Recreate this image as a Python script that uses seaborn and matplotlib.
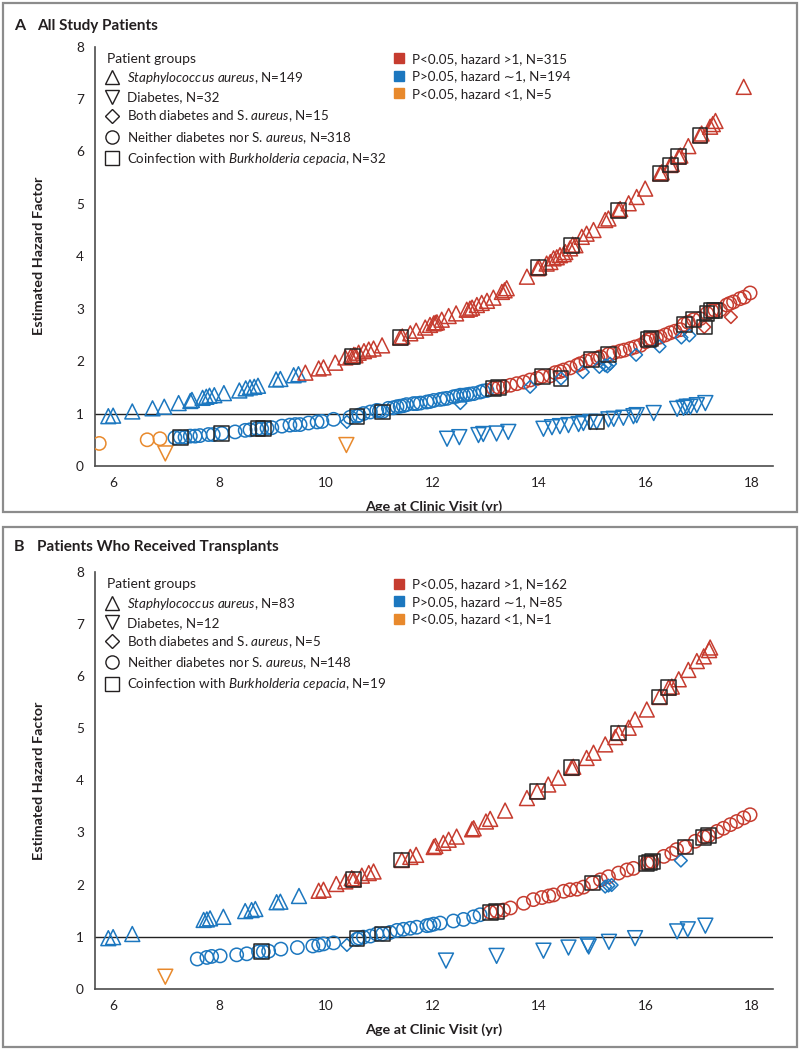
import matplotlib
matplotlib.use("Agg")
import numpy as np
import pandas as pd
import matplotlib.pyplot as plt
import seaborn as sns
from matplotlib.lines import Line2D
from matplotlib.patches import Rectangle

RED = "#C63C2F"
BLUE = "#1C77BF"
ORANGE = "#E8892C"
SQUARE = "#262626"
PALETTE = {"hi": RED, "ns": BLUE, "lo": ORANGE}

# ---------------------------------------------------------------------------
# Panel A : all study patients
# ---------------------------------------------------------------------------
A_AUREUS_X = [5.91, 6.00, 6.36, 6.74, 6.96, 7.23, 7.45, 7.48, 7.68, 7.75, 7.81, 7.90, 8.08, 8.37,
              8.49, 8.57, 8.65, 8.72, 9.06, 9.14, 9.39, 9.48,
              9.61, 9.86, 9.95, 10.17, 10.36, 10.46, 10.52, 10.55, 10.61, 10.71, 10.80, 10.89, 11.05,
              11.39, 11.43, 11.58, 11.69, 11.86, 11.95, 12.02, 12.05, 12.08, 12.17, 12.30, 12.44,
              12.64, 12.70, 12.74, 12.83, 12.92, 13.02, 13.14, 13.30, 13.35, 13.39, 13.77, 13.97,
              14.00, 14.14, 14.21, 14.27, 14.33, 14.39, 14.46, 14.49, 14.58, 14.63, 14.68, 14.80,
              14.89, 15.02, 15.24, 15.30, 15.49, 15.52, 15.68, 15.83, 15.99, 16.27, 16.30, 16.46,
              16.49, 16.62, 16.65, 16.80, 17.02, 17.05, 17.21, 17.26, 17.31, 17.84]
A_AUREUS_Y = [0.95, 0.96, 1.04, 1.10, 1.13, 1.20, 1.24, 1.26, 1.30, 1.32, 1.34, 1.35, 1.39, 1.44,
              1.48, 1.50, 1.51, 1.53, 1.65, 1.66, 1.73, 1.75,
              1.78, 1.86, 1.88, 1.97, 2.07, 2.09, 2.12, 2.11, 2.16, 2.19, 2.22, 2.24, 2.30,
              2.45, 2.47, 2.53, 2.58, 2.64, 2.69, 2.72, 2.73, 2.74, 2.79, 2.86, 2.91,
              2.98, 3.00, 3.02, 3.07, 3.11, 3.15, 3.21, 3.32, 3.35, 3.39, 3.61, 3.77,
              3.79, 3.86, 3.89, 3.96, 3.98, 4.02, 4.04, 4.08, 4.15, 4.22, 4.21, 4.37,
              4.43, 4.50, 4.69, 4.72, 4.88, 4.90, 5.01, 5.13, 5.29, 5.58, 5.60, 5.74,
              5.76, 5.90, 5.92, 6.10, 6.31, 6.34, 6.47, 6.52, 6.58, 7.23]
A_AUREUS_SIG = ["ns"] * 22 + ["hi"] * 71

A_DIAB_X = [6.98, 10.38, 12.27, 12.50, 12.86, 12.95, 13.20, 13.42, 14.08, 14.24, 14.39, 14.55,
            14.74, 14.83, 14.96, 15.08, 15.30, 15.40, 15.58, 15.77, 15.83, 16.15, 16.59, 16.71,
            16.77, 16.84, 16.96, 17.12]
A_DIAB_Y = [0.24, 0.40, 0.52, 0.55, 0.59, 0.61, 0.62, 0.65, 0.71, 0.74, 0.76, 0.78,
            0.80, 0.82, 0.84, 0.84, 0.89, 0.90, 0.92, 0.95, 0.97, 1.01, 1.09, 1.11,
            1.13, 1.13, 1.16, 1.20]
A_DIAB_SIG = ["lo"] * 2 + ["ns"] * 26

A_BOTH_X = [10.39, 12.52, 13.83, 14.41, 14.82, 15.13, 15.24, 15.28, 15.33, 15.82, 16.26, 16.67,
            16.82, 17.10, 17.60]
A_BOTH_Y = [0.84, 1.20, 1.51, 1.67, 1.79, 1.89, 1.92, 1.90, 1.95, 2.12, 2.28, 2.45,
            2.49, 2.65, 2.84]
A_BOTH_SIG = ["ns"] * 13 + ["hi"] * 2

A_NEITHER_X = [5.74, 6.64, 6.88,
               7.16, 7.26, 7.35, 7.45, 7.54, 7.63, 7.79, 7.88, 8.04, 8.29, 8.48, 8.57, 8.70, 8.79,
               8.89, 8.98, 9.17, 9.32, 9.42, 9.51, 9.67, 9.83, 9.92, 10.14, 10.45, 10.58, 10.62,
               10.70, 10.83, 10.95, 11.00, 11.06, 11.17, 11.26, 11.33, 11.39, 11.45, 11.51, 11.64,
               11.70, 11.77, 11.89, 11.95, 12.02, 12.14, 12.20, 12.27, 12.39, 12.45, 12.52, 12.58,
               12.64, 12.70, 12.77, 12.89, 12.95, 13.02,
               13.14, 13.24, 13.33, 13.46, 13.58, 13.71, 13.83, 13.96, 14.06, 14.21, 14.30, 14.39,
               14.46, 14.58, 14.71, 14.77, 14.88, 14.99, 15.10, 15.15, 15.30, 15.40, 15.52, 15.60,
               15.71, 15.80, 15.90, 16.00, 16.05, 16.10, 16.20, 16.27, 16.37, 16.46, 16.55, 16.65,
               16.72, 16.80, 16.90, 17.02, 17.15, 17.24, 17.30, 17.40, 17.52, 17.58, 17.65, 17.77,
               17.85, 17.96]
A_NEITHER_Y = [0.43, 0.50, 0.52,
               0.54, 0.55, 0.55, 0.57, 0.57, 0.58, 0.60, 0.60, 0.62, 0.65, 0.68, 0.69, 0.71, 0.71,
               0.72, 0.73, 0.76, 0.78, 0.79, 0.79, 0.82, 0.84, 0.85, 0.89, 0.93, 0.95, 0.97,
               1.00, 1.03, 1.06, 1.05, 1.04, 1.10, 1.11, 1.13, 1.14, 1.15, 1.17, 1.19,
               1.19, 1.20, 1.22, 1.23, 1.25, 1.27, 1.28, 1.29, 1.32, 1.33, 1.35, 1.35,
               1.36, 1.37, 1.38, 1.41, 1.43, 1.44,
               1.48, 1.50, 1.51, 1.54, 1.57, 1.60, 1.64, 1.67, 1.71, 1.72, 1.78, 1.80,
               1.83, 1.87, 1.92, 1.95, 2.00, 2.03, 2.06, 2.08, 2.13, 2.16, 2.19, 2.21,
               2.24, 2.27, 2.30, 2.37, 2.41, 2.43, 2.44, 2.46, 2.50, 2.54, 2.57, 2.60,
               2.70, 2.74, 2.79, 2.81, 2.91, 2.96, 2.97, 2.98, 3.07, 3.10, 3.13, 3.19,
               3.22, 3.30]
A_NEITHER_SIG = ["lo"] * 3 + ["ns"] * 57 + ["hi"] * 50

A_COINF_X = [7.26, 8.04, 8.72, 8.82, 10.50, 10.58, 11.06, 11.39, 13.14, 13.24, 13.99, 14.06,
             14.41, 14.61, 14.99, 15.07, 15.30, 15.49, 16.05, 16.10, 16.27, 16.46, 16.62, 16.72,
             16.90, 17.02, 17.10, 17.15, 17.24, 17.30]
A_COINF_Y = [0.54, 0.62, 0.71, 0.71, 2.09, 0.95, 1.03, 2.45, 1.48, 1.50, 3.78, 1.71,
             1.67, 4.21, 2.03, 0.84, 2.13, 4.88, 2.41, 2.43, 5.58, 5.74, 5.90, 2.70,
             2.79, 6.31, 2.65, 2.91, 2.96, 2.97]

# ---------------------------------------------------------------------------
# Panel B : patients who received transplants
# ---------------------------------------------------------------------------
B_AUREUS_X = [5.91, 6.00, 6.36, 7.70, 7.76, 7.82, 8.07, 8.48, 8.60, 8.67, 9.07, 9.14, 9.49,
              9.86, 9.95, 10.19, 10.36, 10.48, 10.52, 10.67, 10.80, 10.89, 11.42, 11.58, 11.69,
              12.02, 12.05, 12.20, 12.30, 12.45, 12.74, 12.77, 13.00, 13.08, 13.36, 13.77, 13.96,
              14.17, 14.36, 14.61, 14.64, 14.89, 15.02, 15.24, 15.43, 15.49, 15.68, 15.80, 16.02,
              16.26, 16.43, 16.49, 16.62, 16.80, 16.96, 17.09, 17.19, 17.21]
B_AUREUS_Y = [0.97, 0.99, 1.05, 1.32, 1.33, 1.35, 1.38, 1.49, 1.51, 1.53, 1.66, 1.67, 1.78,
              1.88, 1.90, 2.01, 2.06, 2.12, 2.10, 2.17, 2.22, 2.25, 2.47, 2.53, 2.57,
              2.72, 2.74, 2.80, 2.86, 2.92, 3.06, 3.08, 3.21, 3.26, 3.42, 3.66, 3.79,
              3.92, 4.05, 4.24, 4.26, 4.43, 4.53, 4.69, 4.83, 4.91, 5.01, 5.17, 5.36,
              5.60, 5.78, 5.80, 5.94, 6.12, 6.29, 6.38, 6.50, 6.55]
B_AUREUS_SIG = ["ns"] * 13 + ["hi"] * 45

B_DIAB_X = [6.98, 12.25, 13.20, 14.08, 14.55, 14.91, 14.93, 15.31, 15.80, 16.59, 16.79, 17.12]
B_DIAB_Y = [0.23, 0.54, 0.63, 0.73, 0.79, 0.84, 0.81, 0.90, 0.97, 1.10, 1.14, 1.21]
B_DIAB_SIG = ["lo"] + ["ns"] * 11

B_BOTH_X = [10.39, 15.24, 15.30, 15.36, 16.66]
B_BOTH_Y = [0.84, 1.96, 1.98, 1.99, 2.46]
B_BOTH_SIG = ["ns"] * 5

B_NEITHER_X = [7.58, 7.76, 7.85, 8.01, 8.32, 8.51, 8.73, 8.82, 8.92, 9.15, 9.46, 9.75, 9.86, 9.95,
               10.14, 10.58, 10.62, 10.70, 10.83, 10.95, 11.06, 11.20, 11.33, 11.45, 11.58, 11.70,
               11.89, 11.95, 12.02, 12.14, 12.39, 12.58, 12.77, 12.89,
               13.08, 13.20, 13.33, 13.46, 13.71, 13.89, 14.05, 14.18, 14.27, 14.46, 14.58, 14.71,
               14.83, 15.00, 15.15, 15.30, 15.49, 15.65, 15.77, 16.02, 16.07, 16.12, 16.34, 16.49,
               16.58, 16.74, 16.93, 17.09, 17.18, 17.34, 17.46, 17.59, 17.71, 17.84, 17.96]
B_NEITHER_Y = [0.57, 0.60, 0.62, 0.63, 0.65, 0.67, 0.71, 0.71, 0.72, 0.76, 0.79, 0.82, 0.84, 0.86,
               0.88, 0.95, 0.97, 0.99, 1.01, 1.05, 1.05, 1.08, 1.12, 1.14, 1.16, 1.18,
               1.21, 1.22, 1.24, 1.26, 1.30, 1.33, 1.38, 1.42,
               1.47, 1.49, 1.51, 1.55, 1.64, 1.71, 1.75, 1.78, 1.80, 1.87, 1.90, 1.91,
               1.95, 2.03, 2.09, 2.15, 2.22, 2.28, 2.31, 2.41, 2.42, 2.44, 2.54, 2.60,
               2.67, 2.72, 2.83, 2.91, 2.94, 3.02, 3.08, 3.15, 3.21, 3.28, 3.34]
B_NEITHER_SIG = ["ns"] * 34 + ["hi"] * 35

B_COINF_X = [8.78, 10.52, 10.58, 11.06, 11.42, 13.08, 13.20, 13.96, 14.61, 15.00, 15.49, 16.02,
             16.07, 16.12, 16.26, 16.43, 16.74, 17.09, 17.18]
B_COINF_Y = [0.71, 2.10, 0.97, 1.05, 2.47, 1.47, 1.49, 3.79, 4.24, 2.03, 4.91, 2.41,
             2.42, 2.44, 5.60, 5.78, 2.72, 2.91, 2.94]

A_GROUP_N = [149, 32, 15, 318, 32]
A_SIG_N = [315, 194, 5]
B_GROUP_N = [83, 12, 5, 148, 19]
B_SIG_N = [162, 85, 1]

GROUPS = ["aureus", "diab", "both", "neither", "coinf"]
MARKERS = {"aureus": "^", "diab": "v", "both": "D", "neither": "o", "coinf": "s"}
SIZES = {"aureus": 115, "diab": 115, "both": 42, "neither": 92, "coinf": 115}


def build_frame(xs, ys, sigs):
    frames = []
    for g, x, y, s in zip(GROUPS, xs, ys, sigs):
        frames.append(pd.DataFrame({"age": x, "hazard": y, "group": g, "sig": s}))
    return pd.concat(frames, ignore_index=True)


df_a = build_frame(
    [A_AUREUS_X, A_DIAB_X, A_BOTH_X, A_NEITHER_X, A_COINF_X],
    [A_AUREUS_Y, A_DIAB_Y, A_BOTH_Y, A_NEITHER_Y, A_COINF_Y],
    [A_AUREUS_SIG, A_DIAB_SIG, A_BOTH_SIG, A_NEITHER_SIG, ["box"] * len(A_COINF_X)],
)
df_b = build_frame(
    [B_AUREUS_X, B_DIAB_X, B_BOTH_X, B_NEITHER_X, B_COINF_X],
    [B_AUREUS_Y, B_DIAB_Y, B_BOTH_Y, B_NEITHER_Y, B_COINF_Y],
    [B_AUREUS_SIG, B_DIAB_SIG, B_BOTH_SIG, B_NEITHER_SIG, ["box"] * len(B_COINF_X)],
)

sns.set_style("white")
plt.rcParams["font.family"] = ["Lato", "DejaVu Sans"]
plt.rcParams["mathtext.fontset"] = "custom"
plt.rcParams["mathtext.rm"] = "Lato"
plt.rcParams["mathtext.it"] = "Lato:italic"
plt.rcParams["mathtext.bf"] = "Lato:bold"

TEXT = "#231f20"
AXIS = "#4d4d4d"
FS = 9.6
LABEL_FS = 10.4


def draw_panel(ax, df, group_n, sig_n):
    for g in ["neither", "aureus", "diab", "both", "coinf"]:
        sub = df[df["group"] == g]
        if g == "coinf":
            sns.scatterplot(data=sub, x="age", y="hazard", color=SQUARE, marker=MARKERS[g],
                            s=SIZES[g], legend=False, ax=ax, zorder=4)
        else:
            sns.scatterplot(data=sub, x="age", y="hazard", hue="sig", palette=PALETTE,
                            marker=MARKERS[g], s=SIZES[g], legend=False, ax=ax, zorder=3)
    # hollow markers: move the fill colour onto the edge
    for coll in ax.collections:
        fc = coll.get_facecolors()
        coll.set_edgecolors(fc)
        coll.set_facecolors("none")
        coll.set_linewidths(1.1)

    ax.axhline(1, color="#222222", lw=1.0, zorder=1)
    ax.set_xlim(5.66, 18.39)
    ax.set_ylim(0, 8)
    ax.set_xticks(range(6, 19, 2))
    ax.set_yticks(range(0, 9))
    sns.despine(ax=ax)
    for side in ["left", "bottom"]:
        ax.spines[side].set_color(AXIS)
        ax.spines[side].set_linewidth(1.2)
    ax.tick_params(direction="out", length=5, width=1.1, color=AXIS, labelcolor=TEXT,
                   labelsize=9.8, pad=3)
    ax.set_xlabel("Age at Clinic Visit (yr)", fontsize=LABEL_FS, fontweight="bold", color=TEXT,
                  labelpad=8)
    ax.set_ylabel("Estimated Hazard Factor", fontsize=LABEL_FS, fontweight="bold", color=TEXT,
                  labelpad=22)

    group_labels = [
        f"$\\it{{Staphylococcus\\ aureus}}$, N={group_n[0]}",
        f"Diabetes, N={group_n[1]}",
        f"Both diabetes and S. $\\it{{aureus}}$, N={group_n[2]}",
        f"Neither diabetes nor S. $\\it{{aureus}}$, N={group_n[3]}",
        f"Coinfection with $\\it{{Burkholderia\\ cepacia}}$, N={group_n[4]}",
    ]
    shape_ms = {"aureus": 9.8, "diab": 9.8, "both": 6.8, "neither": 9.5, "coinf": 9.5}
    handles = [Line2D([], [], ls="none", marker=MARKERS[g], ms=shape_ms[g], mfc="none",
                      mec=TEXT, mew=1.0) for g in GROUPS]
    leg1 = ax.legend(handles, group_labels, title="Patient groups", loc="upper left",
                     bbox_to_anchor=(0.017, 0.985), frameon=False, fontsize=FS,
                     title_fontsize=FS + 0.4, alignment="left", handlelength=0.8,
                     handletextpad=0.75, labelspacing=0.4, borderpad=0, borderaxespad=0)
    for t in leg1.get_texts():
        t.set_color(TEXT)
    leg1.get_title().set_color(TEXT)
    ax.add_artist(leg1)

    sig_labels = [f"P<0.05, hazard >1, N={sig_n[0]}",
                  f"P>0.05, hazard \u223c1, N={sig_n[1]}",
                  f"P<0.05, hazard <1, N={sig_n[2]}"]
    sig_handles = [Line2D([], [], ls="none", marker="s", ms=7.2, mfc=c, mec=c)
                   for c in [RED, BLUE, ORANGE]]
    leg2 = ax.legend(sig_handles, sig_labels, loc="upper left", bbox_to_anchor=(0.441, 0.985),
                     frameon=False, fontsize=FS, handlelength=0.8, handletextpad=0.55,
                     labelspacing=0.42, borderpad=0, borderaxespad=0)
    for t in leg2.get_texts():
        t.set_color(TEXT)


fig = plt.figure(figsize=(8, 10.51), dpi=100)
W, H = 800, 1051


def px_box(x0, y0, x1, y1):
    return [x0 / W, 1 - y1 / H, (x1 - x0) / W, (y1 - y0) / H]


ax_a = fig.add_axes(px_box(95, 46.5, 773, 466))
ax_b = fig.add_axes(px_box(95, 572, 773, 988.7))
draw_panel(ax_a, df_a, A_GROUP_N, A_SIG_N)
draw_panel(ax_b, df_b, B_GROUP_N, B_SIG_N)

for (y0, y1) in [(3, 512), (527, 1047)]:
    fig.add_artist(Rectangle((3 / W, 1 - y1 / H), 794 / W, (y1 - y0) / H,
                             transform=fig.transFigure, fill=False, ec="#8c8c8c", lw=1.6))

for letter, title, ypx in [("A", "All Study Patients", 26), ("B", "Patients Who Received Transplants", 547)]:
    fig.text(14 / W, 1 - ypx / H, letter, fontsize=11.5, fontweight="bold", color=TEXT, va="center")
    fig.text(37 / W, 1 - ypx / H, title, fontsize=11, fontweight="bold", color=TEXT, va="center")

fig.savefig("out.png", dpi=100)
